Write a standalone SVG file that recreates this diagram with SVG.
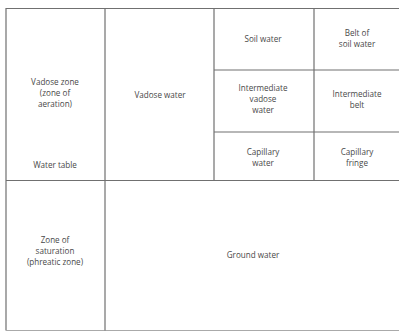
<svg xmlns="http://www.w3.org/2000/svg" width="399" height="331" viewBox="0 0 399 331">
<style>
.ln{stroke:#707070;stroke-width:1.2;fill:none}
.t{font-family:"Open Sans","Liberation Sans",sans-serif;font-size:8.1px;fill:#484848;text-anchor:middle}
</style>
<rect width="399" height="331" fill="#fff"/>
<g id="connectors">
<path class="ln" d="M6,330.5 V8.5 H399"/>
<path class="ln" d="M6,330.5 H399" style="stroke:#aaa"/>
<path class="ln" d="M6,180.5 H399"/>
<path class="ln" d="M105,8.5 V330.5"/>
<path class="ln" d="M214,8.5 V180.5"/>
<path class="ln" d="M314,8.5 V180.5"/>
<path class="ln" d="M214,70 H399"/>
<path class="ln" d="M214,132 H399"/>
</g>
<g id="vadose-zone"><text class="t" x="55" y="85">Vadose zone</text><text class="t" x="55" y="96">(zone of</text><text class="t" x="55" y="107">aeration)</text><text class="t" x="55" y="168">Water table</text></g>
<g id="vadose-water"><text class="t" x="160" y="98">Vadose water</text></g>
<g id="soil-water"><text class="t" x="263" y="42">Soil water</text></g>
<g id="belt-soil-water"><text class="t" x="357" y="36">Belt of</text><text class="t" x="357" y="47">soil water</text></g>
<g id="intermediate-vadose-water"><text class="t" x="263" y="91">Intermediate</text><text class="t" x="263" y="102">vadose</text><text class="t" x="263" y="113">water</text></g>
<g id="intermediate-belt"><text class="t" x="357" y="97">Intermediate</text><text class="t" x="357" y="108">belt</text></g>
<g id="capillary-water"><text class="t" x="263" y="155">Capillary</text><text class="t" x="263" y="166">water</text></g>
<g id="capillary-fringe"><text class="t" x="357" y="155">Capillary</text><text class="t" x="357" y="166">fringe</text></g>
<g id="zone-saturation"><text class="t" x="55" y="243">Zone of</text><text class="t" x="55" y="254">saturation</text><text class="t" x="55" y="265">(phreatic zone)</text></g>
<g id="ground-water"><text class="t" x="253" y="258">Ground water</text></g>
</svg>
